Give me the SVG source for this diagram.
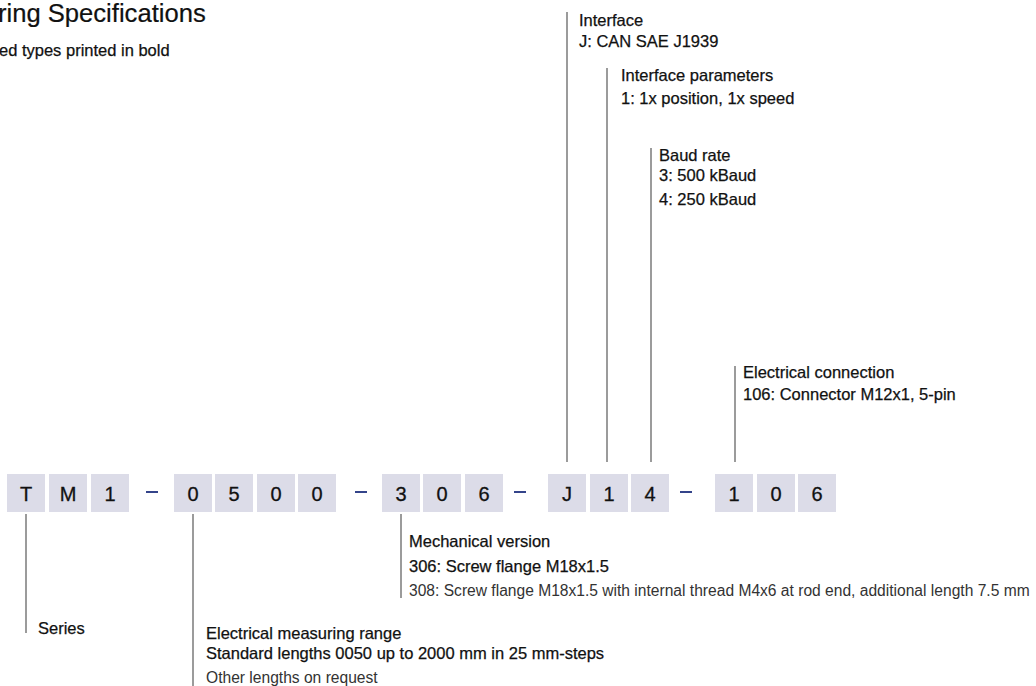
<svg xmlns="http://www.w3.org/2000/svg" width="1036" height="686" viewBox="0 0 1036 686">
<style>
text{font-family:"Liberation Sans",Arial,sans-serif;fill:#111}
.t{font-size:16.5px;stroke:#111;stroke-width:0.25}
.l{font-size:15.6px;fill:#333}
.d{font-size:20px;text-anchor:middle;stroke:#111;stroke-width:0.3}
.box{fill:#dcdce8}
.dash{stroke:#34448a;stroke-width:2}
.ln{stroke:#7a7a7a;stroke-width:1.5;fill:none}
</style>
<rect width="1036" height="686" fill="#fff"/>
<g id="title">
<text x="-2" y="22" style="font-size:25.6px;stroke:#111;stroke-width:0.2">ring Specifications</text>
<text x="-1" y="56" class="t">ed types printed in bold</text>
</g>
<g id="code">
<rect class="box" x="7" y="474" width="38" height="38"/><text class="d" x="26" y="501">T</text>
<rect class="box" x="49" y="474" width="38" height="38"/><text class="d" x="68" y="501">M</text>
<rect class="box" x="91" y="474" width="38" height="38"/><text class="d" x="110" y="501">1</text>
<line class="dash" x1="146" y1="492" x2="158" y2="492"/>
<rect class="box" x="174" y="474" width="38" height="38"/><text class="d" x="193" y="501">0</text>
<rect class="box" x="215" y="474" width="38" height="38"/><text class="d" x="234" y="501">5</text>
<rect class="box" x="257" y="474" width="38" height="38"/><text class="d" x="276" y="501">0</text>
<rect class="box" x="298" y="474" width="38" height="38"/><text class="d" x="317" y="501">0</text>
<line class="dash" x1="355" y1="492" x2="367" y2="492"/>
<rect class="box" x="382" y="474" width="38" height="38"/><text class="d" x="401" y="501">3</text>
<rect class="box" x="423" y="474" width="38" height="38"/><text class="d" x="442" y="501">0</text>
<rect class="box" x="465" y="474" width="38" height="38"/><text class="d" x="484" y="501">6</text>
<line class="dash" x1="514" y1="492" x2="526" y2="492"/>
<rect class="box" x="548" y="474" width="38" height="38"/><text class="d" x="567" y="501">J</text>
<rect class="box" x="590" y="474" width="38" height="38"/><text class="d" x="609" y="501">1</text>
<rect class="box" x="631" y="474" width="38" height="38"/><text class="d" x="650" y="501">4</text>
<line class="dash" x1="680" y1="492" x2="692" y2="492"/>
<rect class="box" x="715" y="474" width="38" height="38"/><text class="d" x="734" y="501">1</text>
<rect class="box" x="757" y="474" width="38" height="38"/><text class="d" x="776" y="501">0</text>
<rect class="box" x="798" y="474" width="38" height="38"/><text class="d" x="817" y="501">6</text>
</g>
<g id="connectors">
<line class="ln" x1="26" y1="514" x2="26" y2="633"/>
<line class="ln" x1="193" y1="514" x2="193" y2="686"/>
<line class="ln" x1="401" y1="514" x2="401" y2="598"/>
<line class="ln" x1="567" y1="12" x2="567" y2="462"/>
<line class="ln" x1="607" y1="68" x2="607" y2="462"/>
<line class="ln" x1="651" y1="148" x2="651" y2="462"/>
<line class="ln" x1="735" y1="366" x2="735" y2="462"/>
</g>
<g id="series"><text class="t" x="38" y="634">Series</text></g>
<g id="range">
<text class="t" x="206" y="639">Electrical measuring range</text>
<text class="t" x="206" y="659">Standard lengths 0050 up to 2000 mm in 25 mm-steps</text>
<text class="l" x="206" y="683">Other lengths on request</text>
</g>
<g id="mech">
<text class="t" x="409" y="547">Mechanical version</text>
<text class="t" x="409" y="572">306: Screw flange M18x1.5</text>
<text class="l" x="409" y="596">308: Screw flange M18x1.5 with internal thread M4x6 at rod end, additional length 7.5 mm</text>
</g>
<g id="interface">
<text class="t" x="579" y="26">Interface</text>
<text class="t" x="579" y="47">J: CAN SAE J1939</text>
</g>
<g id="params">
<text class="t" x="621" y="81">Interface parameters</text>
<text class="t" x="621" y="104">1: 1x position, 1x speed</text>
</g>
<g id="baud">
<text class="t" x="659" y="161">Baud rate</text>
<text class="t" x="659" y="181">3: 500 kBaud</text>
<text class="t" x="659" y="205">4: 250 kBaud</text>
</g>
<g id="elec">
<text class="t" x="743" y="378">Electrical connection</text>
<text class="t" x="743" y="400">106: Connector M12x1, 5-pin</text>
</g>
</svg>
